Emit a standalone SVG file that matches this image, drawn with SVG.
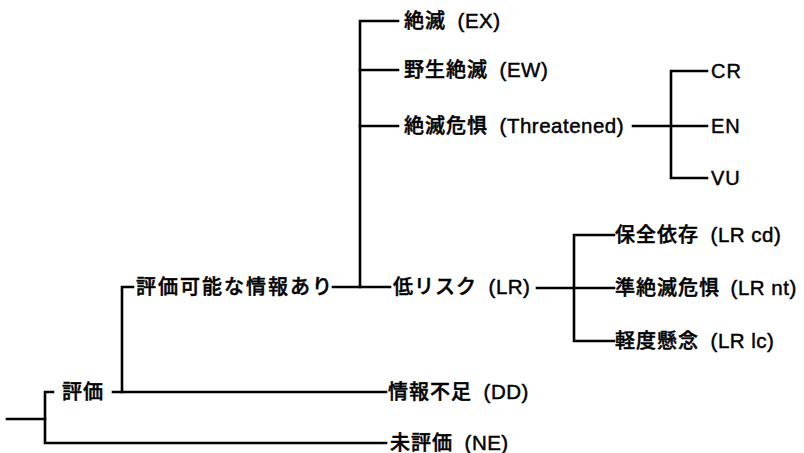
<svg xmlns="http://www.w3.org/2000/svg" width="804" height="453" viewBox="0 0 804 453">
<style>
.c{fill:none;stroke:#000;stroke-width:2.6;stroke-linecap:square;stroke-linejoin:miter}
text{font-family:"Liberation Sans","Noto Sans CJK JP",sans-serif;font-size:20px;font-weight:500;fill:#000;stroke:#000;stroke-width:0.45;letter-spacing:1px}
.w{letter-spacing:2px}
.p{letter-spacing:0.5px;font-size:20.5px}
</style>
<rect width="804" height="453" fill="#fff"/>
<g id="connectors" class="c">
<path d="M7,419 H45"/>
<path d="M53,392 H45 V443 H386"/>
<path d="M113,392 H386"/>
<path d="M133,287 H122 V392"/>
<path d="M333,287 H390"/>
<path d="M398,21 H360 V287"/>
<path d="M360,70 H398"/>
<path d="M360,126 H398"/>
<path d="M633,126 H707"/>
<path d="M707,71 H671 V178 H707"/>
<path d="M537,288 H614"/>
<path d="M614,235 H574 V341 H614"/>
</g>
<g id="n-eval"><text x="62" y="399">評価</text></g>
<g id="n-avail"><text class="w" x="136" y="294">評価可能な情報あり</text></g>
<g id="n-ex"><text x="404" y="28">絶滅 <tspan class="p" dx="5">(EX)</tspan></text></g>
<g id="n-ew"><text x="404" y="77">野生絶滅 <tspan class="p" dx="5">(EW)</tspan></text></g>
<g id="n-th"><text x="404" y="133">絶滅危惧 <tspan class="p" dx="5">(Threatened)</tspan></text></g>
<g id="n-cr"><text x="711" y="78">CR</text></g>
<g id="n-en"><text x="711" y="133">EN</text></g>
<g id="n-vu"><text x="711" y="185">VU</text></g>
<g id="n-lr"><text x="393" y="294">低リスク <tspan class="p" dx="5">(LR)</tspan></text></g>
<g id="n-cd"><text x="615" y="242">保全依存 <tspan class="p" dx="5">(LR cd)</tspan></text></g>
<g id="n-nt"><text x="615" y="295">準絶滅危惧 <tspan class="p" dx="4">(LR nt)</tspan></text></g>
<g id="n-lc"><text x="615" y="348">軽度懸念 <tspan class="p" dx="5">(LR lc)</tspan></text></g>
<g id="n-dd"><text x="388" y="399">情報不足 <tspan class="p" dx="5">(DD)</tspan></text></g>
<g id="n-ne"><text x="390" y="450">未評価 <tspan class="p" dx="5">(NE)</tspan></text></g>
</svg>
